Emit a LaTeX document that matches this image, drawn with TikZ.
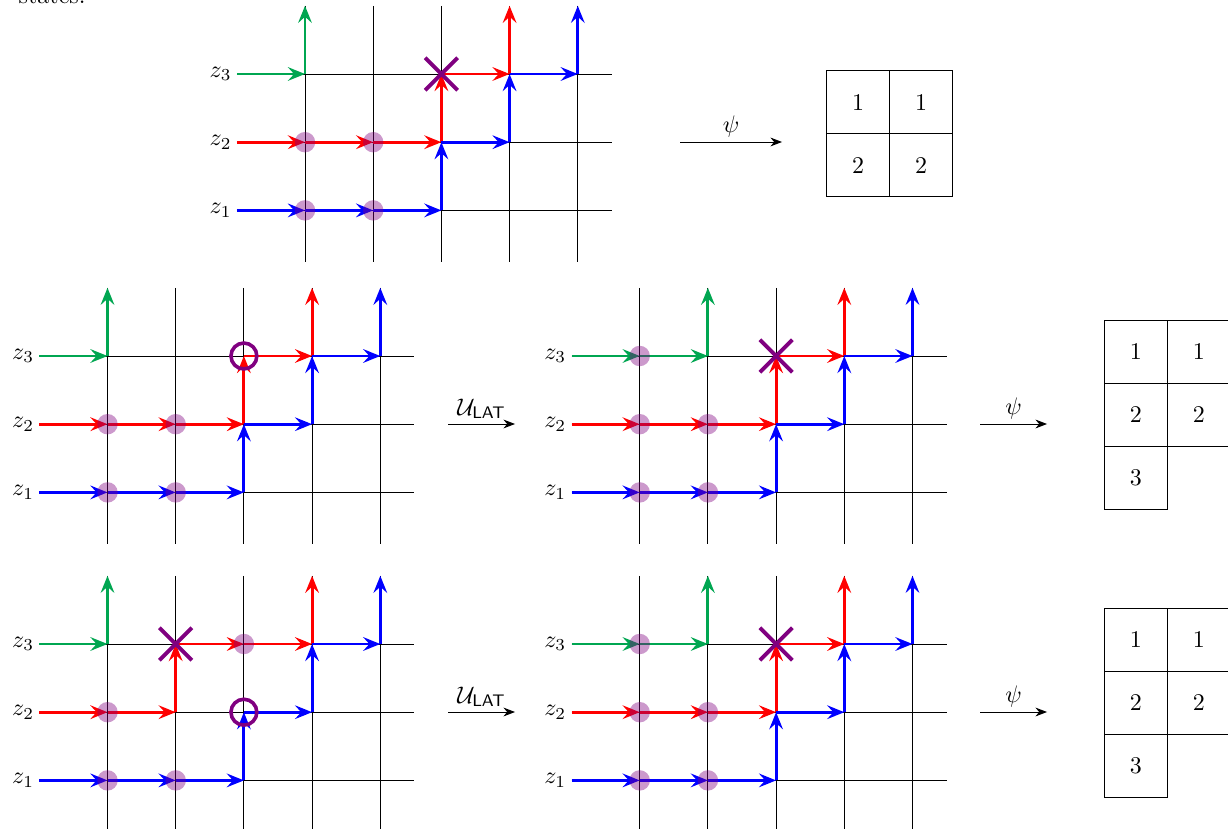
\documentclass[tikz,border=0pt]{standalone}
\usetikzlibrary{arrows.meta,shapes.misc}
\definecolor{pgreen}{RGB}{0,166,81}
\tikzset{
  gridline/.style={black, line width=0.4pt},
  lat/.style={line width=1.2pt, -{Stealth[length=2.5mm,width=2.0mm,inset=0.9mm]}},
  gpath/.style={lat, pgreen},
  rpath/.style={lat, red},
  bpath/.style={lat, blue},
  occ/.style={circle, fill=violet, fill opacity=0.4, minimum size=0.3cm, inner sep=0pt},
  xmark/.style={cross out, draw=violet, line width=1.6pt, minimum size=0.42cm, inner sep=0pt},
  ring/.style={circle, draw=violet, line width=1.5pt, minimum size=0.38cm, inner sep=0pt},
  cell/.style={draw, line width=0.4pt, minimum width=0.9235cm, minimum height=0.9235cm, inner sep=0pt},
  mapto/.style={line width=0.4pt, -{Stealth[length=1.7mm,width=1.3mm]}},
  zlab/.style={anchor=east, inner sep=2pt}
}
\newcommand\latgrid[1]{%
  \foreach \i in {0,...,5} \foreach \j in {1,...,4}
    \coordinate (#1-\i-\j) at (\i-1,\j-3);
  \foreach \x in {0,...,4} \draw[gridline] (\x,1) -- (\x,-2.75);
  \foreach \y in {0,-1,-2} \draw[gridline] (-1,\y) -- (4.5,\y);
  \node[zlab] (#1-z3) at (#1-0-3) {$z_3$};
  \node[zlab] (#1-z2) at (#1-0-2) {$z_2$};
  \node[zlab] (#1-z1) at (#1-0-1) {$z_1$};
}
\newcommand\segs[3]{\foreach \a/\b in {#3} \draw[#1] (#2-\a) -- (#2-\b);}
\newcommand\occs[2]{\foreach \p in {#2} \node[occ] (#1-o-\p) at (#1-\p) {};}
\begin{document}
\begin{tikzpicture}[x=0.014658cm, y=-0.014658cm]
\useasboundingbox (0,0) rectangle (1228,829);

\node[anchor=base east, inner sep=0pt] (frag) at (86,4) {states.};

% ---- top grid
\begin{scope}[shift={(305,74)}, x=1cm, y=1cm]
  \latgrid{A}
  \segs{gpath}{A}{0-3/1-3,1-3/1-4}
  \segs{rpath}{A}{0-2/1-2,1-2/2-2,2-2/3-2,3-2/3-3,3-3/4-3,4-3/4-4}
  \segs{bpath}{A}{0-1/1-1,1-1/2-1,2-1/3-1,3-1/3-2,3-2/4-2,4-2/4-3,4-3/5-3,5-3/5-4}
  \occs{A}{1-2,2-2,1-1,2-1}
  \node[xmark] (A-x) at (A-3-3) {};
\end{scope}

% ---- middle left
\begin{scope}[shift={(107.5,356)}, x=1cm, y=1cm]
  \latgrid{B}
  \segs{gpath}{B}{0-3/1-3,1-3/1-4}
  \segs{rpath}{B}{0-2/1-2,1-2/2-2,2-2/3-2,3-2/3-3,3-3/4-3,4-3/4-4}
  \segs{bpath}{B}{0-1/1-1,1-1/2-1,2-1/3-1,3-1/3-2,3-2/4-2,4-2/4-3,4-3/5-3,5-3/5-4}
  \occs{B}{1-2,2-2,1-1,2-1}
  \node[ring] (B-r) at (B-3-3) {};
\end{scope}

% ---- middle right
\begin{scope}[shift={(639.7,356)}, x=1cm, y=1cm]
  \latgrid{C}
  \segs{gpath}{C}{0-3/1-3,1-3/2-3,2-3/2-4}
  \segs{rpath}{C}{0-2/1-2,1-2/2-2,2-2/3-2,3-2/3-3,3-3/4-3,4-3/4-4}
  \segs{bpath}{C}{0-1/1-1,1-1/2-1,2-1/3-1,3-1/3-2,3-2/4-2,4-2/4-3,4-3/5-3,5-3/5-4}
  \occs{C}{1-3,1-2,2-2,1-1,2-1}
  \node[xmark] (C-x) at (C-3-3) {};
\end{scope}

% ---- bottom left
\begin{scope}[shift={(107.5,644)}, x=1cm, y=1cm]
  \latgrid{D}
  \segs{gpath}{D}{0-3/1-3,1-3/1-4}
  \segs{rpath}{D}{0-2/1-2,1-2/2-2,2-2/2-3,2-3/3-3,3-3/4-3,4-3/4-4}
  \segs{bpath}{D}{0-1/1-1,1-1/2-1,2-1/3-1,3-1/3-2,3-2/4-2,4-2/4-3,4-3/5-3,5-3/5-4}
  \occs{D}{1-2,1-1,2-1,3-3}
  \node[xmark] (D-x) at (D-2-3) {};
  \node[ring] (D-r) at (D-3-2) {};
\end{scope}

% ---- bottom right
\begin{scope}[shift={(639.7,644)}, x=1cm, y=1cm]
  \latgrid{E}
  \segs{gpath}{E}{0-3/1-3,1-3/2-3,2-3/2-4}
  \segs{rpath}{E}{0-2/1-2,1-2/2-2,2-2/3-2,3-2/3-3,3-3/4-3,4-3/4-4}
  \segs{bpath}{E}{0-1/1-1,1-1/2-1,2-1/3-1,3-1/3-2,3-2/4-2,4-2/4-3,4-3/5-3,5-3/5-4}
  \occs{E}{1-3,1-2,2-2,1-1,2-1}
  \node[xmark] (E-x) at (E-3-3) {};
\end{scope}

% ---- maps
\coordinate (p1s) at (680,142);  \coordinate (p1e) at (782,142);
\coordinate (p2s) at (980,424);  \coordinate (p2e) at (1047,424);
\coordinate (p3s) at (980,712);  \coordinate (p3e) at (1047,712);
\coordinate (u1s) at (448,424);  \coordinate (u1e) at (515,424);
\coordinate (u2s) at (448,712);  \coordinate (u2e) at (515,712);
\draw[mapto] (p1s) -- node[above, inner sep=2pt] (psi1) {$\psi$} (p1e);
\draw[mapto] (p2s) -- node[above, inner sep=2pt] (psi2) {$\psi$} (p2e);
\draw[mapto] (p3s) -- node[above, inner sep=2pt] (psi3) {$\psi$} (p3e);
\draw[mapto] (u1s) -- node[above, inner sep=2pt] (ul1) {$\mathcal{U}_{\mathsf{LAT}}$} (u1e);
\draw[mapto] (u2s) -- node[above, inner sep=2pt] (ul2) {$\mathcal{U}_{\mathsf{LAT}}$} (u2e);

% ---- tableaux
\node[cell] (T1-11) at (858.2,102.2) {1};
\node[cell] (T1-12) at (921.2,102.2) {1};
\node[cell] (T1-21) at (858.2,165.2) {2};
\node[cell] (T1-22) at (921.2,165.2) {2};

\node[cell] (T2-11) at (1135.8,352) {1};
\node[cell] (T2-12) at (1198.8,352) {1};
\node[cell] (T2-21) at (1135.8,415) {2};
\node[cell] (T2-22) at (1198.8,415) {2};
\node[cell] (T2-31) at (1135.8,478) {3};

\node[cell] (T3-11) at (1135.8,639.7) {1};
\node[cell] (T3-12) at (1198.8,639.7) {1};
\node[cell] (T3-21) at (1135.8,702.7) {2};
\node[cell] (T3-22) at (1198.8,702.7) {2};
\node[cell] (T3-31) at (1135.8,765.7) {3};
\end{tikzpicture}
\end{document}
